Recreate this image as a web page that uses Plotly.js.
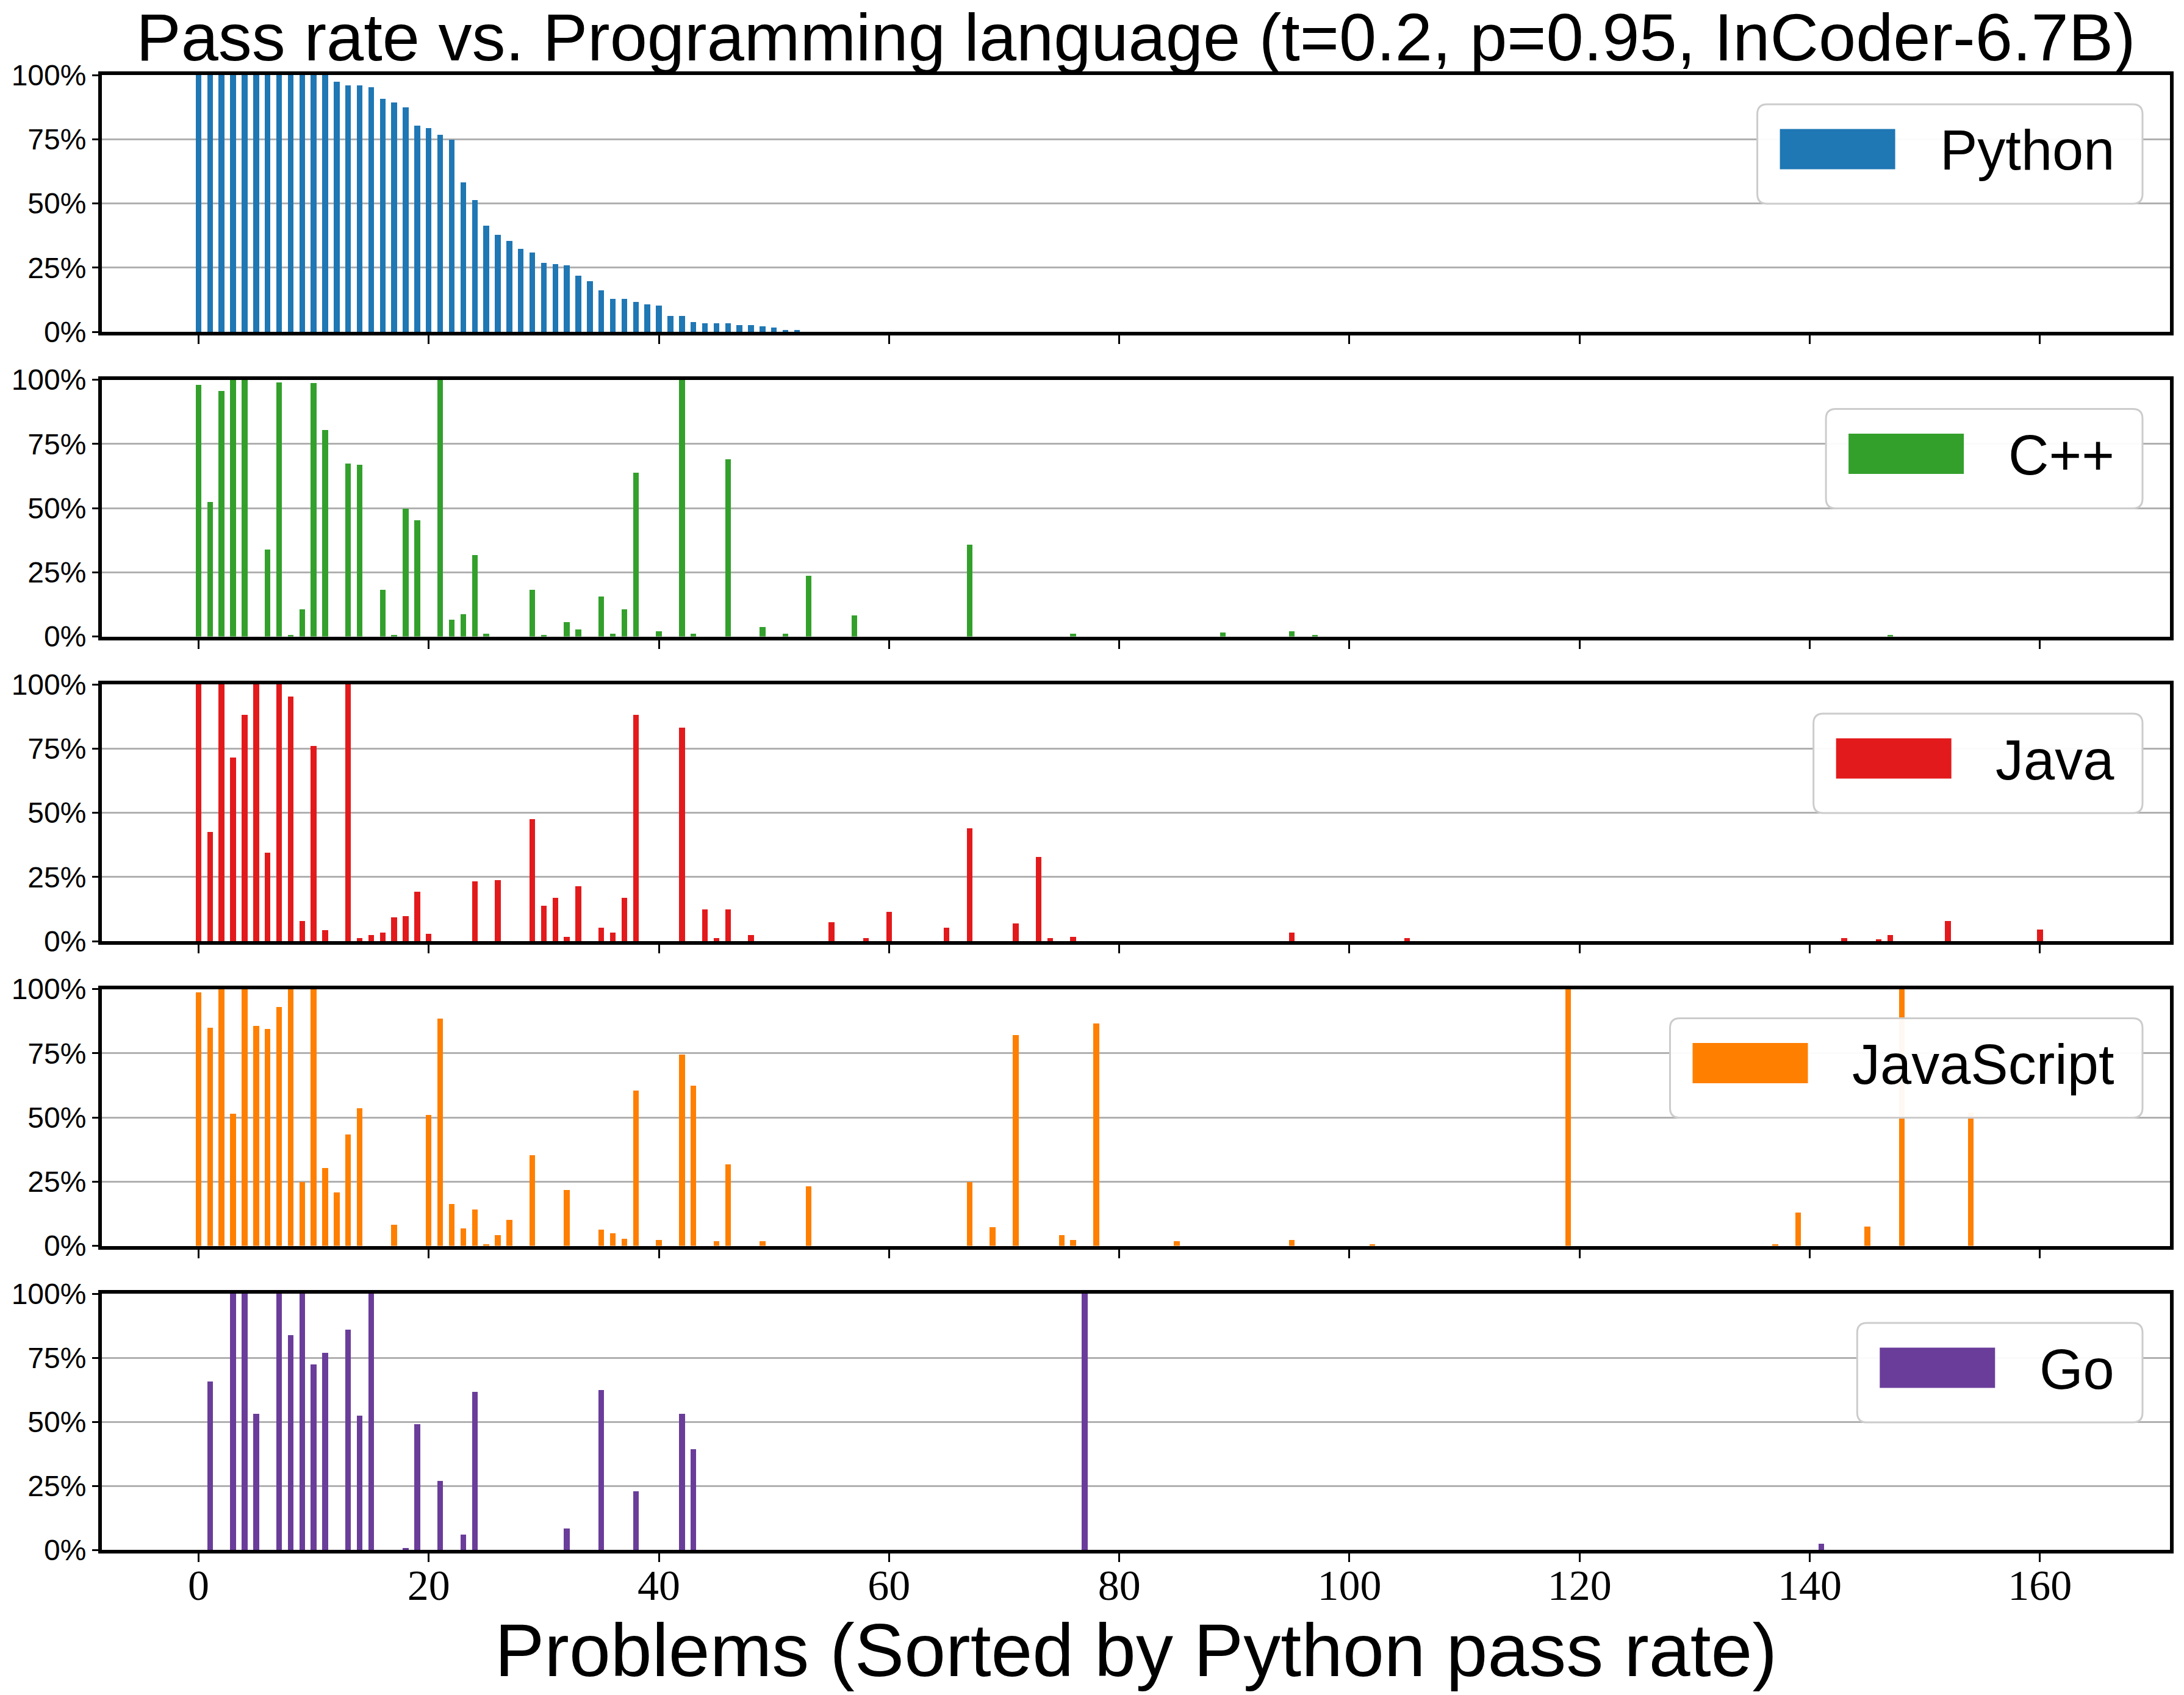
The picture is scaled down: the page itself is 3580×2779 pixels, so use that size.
<!DOCTYPE html>
<html>
<head>
<meta charset="utf-8">
<script src="https://cdn.plot.ly/plotly-3.0.1.min.js"></script>
<style>
  html, body { margin: 0; padding: 0; background: #fff; }
  #plot { width: 3580px; height: 2779px; }
</style>
</head>
<body>
<div id="plot"></div>
<script>
// pass rates (%) per problem, problems sorted by Python pass rate
const pythonVal = [100, 100, 100, 100, 100, 100, 100, 100, 100, 100, 100, 100,
    97.5, 96.0, 96.0, 95.3, 90.8, 89.4, 87.5, 80.4, 79.4, 76.8, 74.9, 58.3, 51.2,
    41.3, 37.7, 35.3, 32.3, 30.8, 26.8, 26.3, 25.8, 21.8, 19.7, 16.1, 12.8, 12.8,
    11.6, 10.7, 10.2, 6.2, 6.2, 3.8, 3.3, 3.3, 3.3, 2.6, 2.6, 2.1, 1.7, 0.7, 0.7];

// other languages are sparse: problem index + pass rate
const cppIdx = [0, 1, 2, 3, 4, 6, 7, 8, 9, 10, 11, 13, 14, 16, 17, 18, 19, 21, 22, 23, 24, 25,
    29, 30, 32, 33, 35, 36, 37, 38, 40, 42, 43, 46, 49, 51, 53, 57, 67, 76, 89, 95, 97, 147];
const cppVal = [98.2, 52.5, 95.8, 100, 100, 34.0, 99.1, 0.7, 10.7, 98.7, 80.6, 67.5, 67.0, 18.3,
    0.7, 49.9, 45.4, 100, 6.7, 8.8, 31.9, 1.2, 18.3, 0.7, 5.7, 2.9, 15.7, 1.2, 10.7, 63.9, 2.1,
    100, 1.2, 69.2, 3.8, 1.2, 23.8, 8.3, 35.9, 1.2, 1.7, 2.1, 0.7, 0.7];

const javaIdx = [0, 1, 2, 3, 4, 5, 6, 7, 8, 9, 10, 11, 13, 14, 15, 16, 17, 18, 19, 20, 24, 26,
    29, 30, 31, 32, 33, 35, 36, 37, 38, 42, 44, 45, 46, 48, 55, 58, 60, 65, 67, 71, 73, 74, 76,
    95, 105, 143, 146, 147, 152, 160];
const javaVal = [100, 42.5, 100, 71.5, 88.2, 100, 34.4, 100, 95.3, 7.8, 76.0, 4.2, 100, 1.1,
    2.3, 3.3, 9.2, 9.7, 19.2, 2.8, 23.2, 23.7, 47.5, 13.7, 16.8, 1.6, 21.3, 5.2, 3.3, 16.8, 88.2,
    83.2, 12.3, 1.1, 12.3, 2.3, 7.3, 1.1, 11.3, 5.2, 43.9, 6.8, 32.8, 1.1, 1.6, 3.3, 1.1, 1.1,
    0.6, 2.3, 7.8, 4.6];

const jsIdx = [0, 1, 2, 3, 4, 5, 6, 7, 8, 9, 10, 11, 12, 13, 14, 17, 20, 21, 22, 23, 24, 25, 26,
    27, 29, 32, 35, 36, 37, 38, 40, 42, 43, 45, 46, 49, 53, 67, 69, 71, 75, 76, 78, 85, 95, 102,
    119, 137, 139, 145, 148, 154];
const jsVal = [98.7, 85.0, 100, 51.5, 100, 85.7, 84.5, 93.0, 100, 24.9, 100, 30.3, 20.8, 43.4,
    53.8, 8.2, 51.0, 88.5, 16.3, 6.8, 14.2, 0.6, 4.2, 10.1, 35.3, 21.8, 6.3, 5.1, 2.8, 60.5, 2.3,
    74.5, 62.4, 1.8, 31.8, 1.8, 23.2, 24.9, 7.3, 82.1, 4.2, 2.3, 86.6, 1.8, 2.3, 0.6, 100, 0.6,
    13.1, 7.6, 100, 52];

const goIdx = [1, 3, 4, 5, 7, 8, 9, 10, 11, 13, 14, 15, 18, 19, 21, 23, 24, 32, 35, 38, 42, 43,
    77, 141];
const goVal = [65.6, 100, 100, 53.0, 100, 83.7, 100, 72.3, 76.8, 85.9, 52.5, 100, 0.6, 49.0,
    26.8, 5.9, 61.6, 8.3, 62.5, 22.8, 53.0, 39.4, 100, 2.5];

const languages = ["Python", "C++", "Java", "JavaScript", "Go"];
const colors = ["#1f77b4", "#33a02c", "#e31a1c", "#ff7f00", "#6a3d9a"];
const xTicks = [0, 20, 40, 60, 80, 100, 120, 140, 160];
const yTicks = [0, 25, 50, 75, 100];
const yTickText = ["0%", "25%", "50%", "75%", "100%"];

const series = [
    { x: pythonVal.map((v, i) => i), y: pythonVal },
    { x: cppIdx, y: cppVal },
    { x: javaIdx, y: javaVal },
    { x: jsIdx, y: jsVal },
    { x: goIdx, y: goVal }
];

// figure geometry (pixels)
const W = 3580, H = 2779;
const M = { l: 167, r: 23, t: 123, b: 238 };
const plotW = W - M.l - M.r;
const plotH = H - M.t - M.b;
const panelH = 421, panelStep = 499.5;

const sans = "Liberation Sans, Arial, Helvetica, sans-serif";
const serif = "Liberation Serif, Times New Roman, serif";

const px2x = px => (px - M.l) / plotW;
const px2y = py => (H - M.b - py) / plotH;

// measure legend label width
const ctx = document.createElement("canvas").getContext("2d");
const legendFont = 92;
ctx.font = legendFont + "px 'Liberation Sans'";

const traces = [];
const layout = {
    width: W, height: H,
    margin: M,
    paper_bgcolor: "#fff",
    plot_bgcolor: "#fff",
    showlegend: false,
    bargap: 0,
    title: {
        text: "Pass rate vs. Programming language (t=0.2, p=0.95, InCoder-6.7B)",
        font: { family: sans, size: 110, color: "#000" },
        x: 0.5, xref: "paper",
        y: 1 - 60 / H, yref: "container", yanchor: "middle"
    },
    shapes: [],
    annotations: []
};

languages.forEach((lang, k) => {
    const sfx = k === 0 ? "" : String(k + 1);
    const top = M.t + panelStep * k;
    const bottom = top + panelH;
    const last = k === languages.length - 1;

    traces.push({
        type: "bar",
        name: lang,
        x: series[k].x,
        y: series[k].y,
        width: 0.5,
        marker: { color: colors[k], line: { width: 0 } },
        xaxis: "x" + sfx,
        yaxis: "y" + sfx,
        hoverinfo: "x+y"
    });

    layout["xaxis" + sfx] = {
        domain: [0, 1],
        anchor: "y" + sfx,
        range: [-8.4, 171.3],
        matches: k === 0 ? undefined : "x",
        tickvals: xTicks,
        showticklabels: last,
        tickfont: { family: serif, size: 70, color: "#000" },
        ticklabelstandoff: -22,
        ticks: "outside", ticklen: 14, tickwidth: 2.5, tickcolor: "#000",
        showgrid: false, zeroline: false,
        showline: true, mirror: true, linewidth: 6, linecolor: "#000",
        title: last ? {
            text: "Problems (Sorted by Python pass rate)",
            font: { family: sans, size: 122, color: "#000" },
            standoff: 16
        } : undefined
    };

    layout["yaxis" + sfx] = {
        domain: [px2y(bottom), px2y(top)],
        anchor: "x" + sfx,
        range: [0, 100],
        tickmode: "array",
        tickvals: yTicks,
        ticktext: yTickText,
        tickfont: { family: sans, size: 48, color: "#000" },
        ticks: "outside", ticklen: 10, tickwidth: 2.5, tickcolor: "#000",
        showgrid: true, gridcolor: "#b0b0b0", gridwidth: 2.5,
        zeroline: false,
        showline: true, mirror: true, linewidth: 6, linecolor: "#000"
    };

    // legend box drawn by hand (matplotlib style: wide patch + label)
    const textW = ctx.measureText(lang).width;
    const boxR = M.l + plotW - 45;
    const boxL = boxR - 44 - textW - 75 - 189 - 37;
    const boxT = top + 48, boxB = boxT + 163;
    const rx = 16 / plotW, ry = 16 / plotH;
    const x0 = px2x(boxL), x1 = px2x(boxR), y0 = px2y(boxB), y1 = px2y(boxT);
    layout.shapes.push({
        type: "path", xref: "paper", yref: "paper", layer: "above",
        path: `M${x0 + rx},${y1} L${x1 - rx},${y1} Q${x1},${y1} ${x1},${y1 - ry} ` +
              `L${x1},${y0 + ry} Q${x1},${y0} ${x1 - rx},${y0} L${x0 + rx},${y0} ` +
              `Q${x0},${y0} ${x0},${y0 + ry} L${x0},${y1 - ry} Q${x0},${y1} ${x0 + rx},${y1} Z`,
        fillcolor: "rgba(255,255,255,0.95)",
        line: { color: "#cccccc", width: 3 }
    });
    const midY = (boxT + boxB) / 2 - 8;
    layout.shapes.push({
        type: "rect", xref: "paper", yref: "paper", layer: "above",
        x0: px2x(boxL + 37), x1: px2x(boxL + 37 + 189),
        y0: px2y(midY + 33), y1: px2y(midY - 33),
        fillcolor: colors[k], line: { width: 0 }
    });
    layout.annotations.push({
        xref: "paper", yref: "paper",
        x: px2x(boxR - 44), y: px2y(midY + 2),
        xanchor: "right", yanchor: "middle",
        text: lang, showarrow: false,
        font: { family: sans, size: legendFont, color: "#000" }
    });
});

Plotly.newPlot("plot", traces, layout, { displayModeBar: false, responsive: false });
</script>
</body>
</html>
